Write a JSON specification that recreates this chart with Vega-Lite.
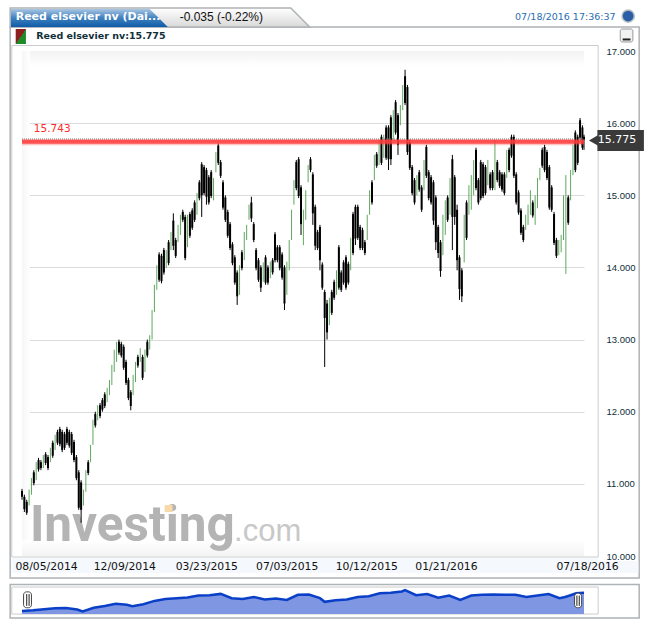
{"$schema":"https://vega.github.io/schema/vega-lite/v6.json","width":562,"height":505,"autosize":{"type":"none"},"padding":{"left":22,"top":51,"right":66,"bottom":71},"background":"white","config":{"view":{"stroke":null}},
"datasets":{"bars":[
{"d":"2014-08-05","o":10.9,"h":10.93,"l":10.78,"c":10.82,"t":"d"},{"d":"2014-08-08","o":10.82,"h":10.85,"l":10.61,"c":10.65,"t":"d"},{"d":"2014-08-11","o":10.75,"h":10.78,"l":10.57,"c":10.6,"t":"d"},{"d":"2014-08-14","o":10.73,"h":10.92,"l":10.7,"c":10.89,"t":"u"},{"d":"2014-08-17","o":10.88,"h":11.08,"l":10.85,"c":11.05,"t":"u"},{"d":"2014-08-20","o":11.16,"h":11.19,"l":10.98,"c":11.01,"t":"d"},{"d":"2014-08-23","o":11.08,"h":11.3,"l":11.05,"c":11.27,"t":"u"},{"d":"2014-08-26","o":11.33,"h":11.36,"l":11.17,"c":11.2,"t":"d"},{"d":"2014-08-29","o":11.3,"h":11.33,"l":11.19,"c":11.22,"t":"d"},{"d":"2014-09-01","o":11.25,"h":11.4,"l":11.22,"c":11.37,"t":"u"},{"d":"2014-09-04","o":11.41,"h":11.44,"l":11.26,"c":11.29,"t":"d"},{"d":"2014-09-07","o":11.37,"h":11.4,"l":11.19,"c":11.22,"t":"d"},{"d":"2014-09-10","o":11.33,"h":11.5,"l":11.3,"c":11.47,"t":"u"},{"d":"2014-09-13","o":11.57,"h":11.6,"l":11.36,"c":11.39,"t":"d"},{"d":"2014-09-16","o":11.5,"h":11.68,"l":11.47,"c":11.65,"t":"u"},{"d":"2014-09-19","o":11.72,"h":11.75,"l":11.54,"c":11.57,"t":"d"},{"d":"2014-09-22","o":11.76,"h":11.79,"l":11.52,"c":11.55,"t":"d"},{"d":"2014-09-25","o":11.72,"h":11.75,"l":11.44,"c":11.47,"t":"d"},{"d":"2014-09-28","o":11.69,"h":11.72,"l":11.47,"c":11.5,"t":"d"},
{"d":"2014-10-01","o":11.76,"h":11.79,"l":11.54,"c":11.57,"t":"d"},{"d":"2014-10-04","o":11.72,"h":11.75,"l":11.5,"c":11.53,"t":"d"},{"d":"2014-10-07","o":11.69,"h":11.72,"l":11.4,"c":11.43,"t":"d"},{"d":"2014-10-10","o":11.58,"h":11.61,"l":11.3,"c":11.33,"t":"d"},{"d":"2014-10-13","o":11.37,"h":11.4,"l":11.05,"c":11.08,"t":"d"},{"d":"2014-10-16","o":11.16,"h":11.19,"l":10.64,"c":10.67,"t":"d"},{"d":"2014-10-19","o":11.02,"h":11.05,"l":10.46,"c":10.64,"t":"d"},{"d":"2014-10-22","o":10.73,"h":10.92,"l":10.7,"c":10.89,"t":"u"},{"d":"2014-10-25","o":10.92,"h":11.19,"l":10.89,"c":11.16,"t":"u"},{"d":"2014-10-28","o":11.3,"h":11.33,"l":11.12,"c":11.15,"t":"d"},{"d":"2014-10-31","o":11.33,"h":11.54,"l":11.3,"c":11.51,"t":"u"},{"d":"2014-11-03","o":11.57,"h":11.89,"l":11.54,"c":11.86,"t":"u"},{"d":"2014-11-06","o":11.97,"h":12,"l":11.78,"c":11.81,"t":"d"},{"d":"2014-11-09","o":11.91,"h":12.09,"l":11.88,"c":12.06,"t":"u"},{"d":"2014-11-12","o":12.09,"h":12.12,"l":11.91,"c":11.94,"t":"d"},{"d":"2014-11-15","o":12.16,"h":12.19,"l":12,"c":12.03,"t":"d"},{"d":"2014-11-18","o":12.24,"h":12.27,"l":12.05,"c":12.08,"t":"d"},{"d":"2014-11-21","o":12.16,"h":12.33,"l":12.13,"c":12.3,"t":"u"},{"d":"2014-11-24","o":12.26,"h":12.44,"l":12.23,"c":12.41,"t":"u"},{"d":"2014-11-27","o":12.4,"h":12.65,"l":12.37,"c":12.62,"t":"u"},{"d":"2014-11-30","o":12.58,"h":12.86,"l":12.55,"c":12.83,"t":"u"},
{"d":"2014-12-03","o":12.72,"h":12.97,"l":12.69,"c":12.94,"t":"u"},{"d":"2014-12-06","o":12.97,"h":13,"l":12.79,"c":12.82,"t":"d"},{"d":"2014-12-09","o":12.94,"h":12.97,"l":12.75,"c":12.78,"t":"d"},{"d":"2014-12-12","o":12.9,"h":12.93,"l":12.58,"c":12.61,"t":"d"},{"d":"2014-12-15","o":12.69,"h":12.72,"l":12.37,"c":12.4,"t":"d"},{"d":"2014-12-18","o":12.44,"h":12.47,"l":12.16,"c":12.19,"t":"d"},{"d":"2014-12-21","o":12.27,"h":12.3,"l":12.02,"c":12.08,"t":"d"},{"d":"2014-12-24","o":12.26,"h":12.51,"l":12.23,"c":12.48,"t":"u"},{"d":"2014-12-27","o":12.44,"h":12.69,"l":12.41,"c":12.66,"t":"u"},{"d":"2014-12-30","o":12.76,"h":12.79,"l":12.61,"c":12.64,"t":"d"},{"d":"2015-01-02","o":12.72,"h":12.88,"l":12.69,"c":12.85,"t":"u"},{"d":"2015-01-05","o":12.76,"h":12.79,"l":12.44,"c":12.47,"t":"d"},{"d":"2015-01-08","o":12.58,"h":12.86,"l":12.55,"c":12.83,"t":"u"},{"d":"2015-01-11","o":12.97,"h":13,"l":12.75,"c":12.78,"t":"d"},{"d":"2015-01-14","o":12.89,"h":13.06,"l":12.86,"c":13.03,"t":"u"},{"d":"2015-01-17","o":13.03,"h":13.41,"l":13,"c":13.38,"t":"u"},{"d":"2015-01-20","o":13.41,"h":13.76,"l":13.38,"c":13.73,"t":"u"},{"d":"2015-01-23","o":13.72,"h":14.03,"l":13.69,"c":14,"t":"u"},{"d":"2015-01-26","o":14.18,"h":14.21,"l":13.8,"c":13.83,"t":"d"},{"d":"2015-01-29","o":14.16,"h":14.19,"l":13.78,"c":13.81,"t":"d"},
{"d":"2015-02-01","o":14.24,"h":14.27,"l":13.9,"c":13.93,"t":"d"},{"d":"2015-02-04","o":14.02,"h":14.24,"l":13.99,"c":14.21,"t":"u"},{"d":"2015-02-07","o":14.35,"h":14.38,"l":14.03,"c":14.06,"t":"d"},{"d":"2015-02-10","o":14.27,"h":14.49,"l":14.24,"c":14.46,"t":"u"},{"d":"2015-02-13","o":14.65,"h":14.75,"l":14.24,"c":14.3,"t":"d"},{"d":"2015-02-16","o":14.38,"h":14.41,"l":14.13,"c":14.16,"t":"d"},{"d":"2015-02-19","o":14.38,"h":14.59,"l":14.35,"c":14.56,"t":"u"},{"d":"2015-02-22","o":14.48,"h":14.73,"l":14.45,"c":14.7,"t":"u"},{"d":"2015-02-25","o":14.77,"h":14.8,"l":14.63,"c":14.66,"t":"d"},{"d":"2015-02-28","o":14.7,"h":14.73,"l":14.1,"c":14.13,"t":"d"},{"d":"2015-03-03","o":14.31,"h":14.73,"l":14.28,"c":14.7,"t":"u"},{"d":"2015-03-06","o":14.74,"h":14.77,"l":14.41,"c":14.44,"t":"d"},{"d":"2015-03-09","o":14.79,"h":14.82,"l":14.52,"c":14.55,"t":"d"},{"d":"2015-03-12","o":14.9,"h":14.93,"l":14.63,"c":14.66,"t":"d"},{"d":"2015-03-15","o":14.76,"h":15.03,"l":14.73,"c":15,"t":"u"},{"d":"2015-03-18","o":15.18,"h":15.21,"l":14.93,"c":14.96,"t":"d"},{"d":"2015-03-21","o":15.43,"h":15.46,"l":14.7,"c":15,"t":"d"},{"d":"2015-03-24","o":15.39,"h":15.42,"l":15,"c":15.03,"t":"d"},{"d":"2015-03-27","o":15.35,"h":15.38,"l":14.87,"c":14.98,"t":"d"},{"d":"2015-03-30","o":15.25,"h":15.28,"l":14.87,"c":14.9,"t":"d"},
{"d":"2015-04-02","o":15.32,"h":15.35,"l":14.96,"c":14.99,"t":"d"},{"d":"2015-04-05","o":14.96,"h":15.24,"l":14.93,"c":15.21,"t":"u"},{"d":"2015-04-08","o":15.35,"h":15.6,"l":15.32,"c":15.57,"t":"u"},{"d":"2015-04-11","o":15.69,"h":15.72,"l":15.42,"c":15.45,"t":"d"},{"d":"2015-04-14","o":15.46,"h":15.49,"l":15.24,"c":15.27,"t":"d"},{"d":"2015-04-17","o":15.18,"h":15.21,"l":14.8,"c":14.83,"t":"d"},{"d":"2015-04-20","o":14.97,"h":15,"l":14.63,"c":14.66,"t":"d"},{"d":"2015-04-23","o":14.77,"h":14.8,"l":14.41,"c":14.44,"t":"d"},{"d":"2015-04-26","o":14.6,"h":14.63,"l":14.24,"c":14.27,"t":"d"},{"d":"2015-04-29","o":14.32,"h":14.35,"l":14.03,"c":14.06,"t":"d"},{"d":"2015-05-02","o":14.14,"h":14.17,"l":13.76,"c":13.79,"t":"d"},{"d":"2015-05-05","o":13.93,"h":13.96,"l":13.48,"c":13.6,"t":"d"},{"d":"2015-05-08","o":13.65,"h":14.03,"l":13.62,"c":14,"t":"u"},{"d":"2015-05-11","o":14.21,"h":14.24,"l":13.96,"c":13.99,"t":"d"},{"d":"2015-05-14","o":14.13,"h":14.49,"l":14.1,"c":14.46,"t":"u"},{"d":"2015-05-17","o":14.41,"h":14.59,"l":14.38,"c":14.56,"t":"u"},{"d":"2015-05-20","o":14.69,"h":14.87,"l":14.66,"c":14.84,"t":"u"},{"d":"2015-05-23","o":14.9,"h":14.98,"l":14.63,"c":14.68,"t":"d"},{"d":"2015-05-26","o":14.6,"h":14.63,"l":14.35,"c":14.38,"t":"d"},{"d":"2015-05-29","o":14.24,"h":14.27,"l":13.96,"c":13.99,"t":"d"},
{"d":"2015-06-01","o":14.1,"h":14.13,"l":13.8,"c":13.83,"t":"d"},{"d":"2015-06-04","o":14,"h":14.03,"l":13.66,"c":13.72,"t":"d"},{"d":"2015-06-07","o":13.83,"h":14.07,"l":13.8,"c":14.04,"t":"u"},{"d":"2015-06-10","o":14.14,"h":14.17,"l":13.76,"c":13.79,"t":"d"},{"d":"2015-06-13","o":14,"h":14.03,"l":13.76,"c":13.79,"t":"d"},{"d":"2015-06-16","o":13.88,"h":14.08,"l":13.85,"c":14.05,"t":"u"},{"d":"2015-06-19","o":14.1,"h":14.13,"l":13.9,"c":13.93,"t":"d"},{"d":"2015-06-22","o":14.46,"h":14.49,"l":14.07,"c":14.1,"t":"d"},{"d":"2015-06-25","o":14.28,"h":14.31,"l":14.07,"c":14.1,"t":"d"},{"d":"2015-06-28","o":14.28,"h":14.31,"l":13.96,"c":13.99,"t":"d"},{"d":"2015-07-01","o":14.18,"h":14.21,"l":13.83,"c":13.86,"t":"d"},{"d":"2015-07-04","o":14,"h":14.03,"l":13.41,"c":13.5,"t":"d"},{"d":"2015-07-07","o":13.65,"h":14.08,"l":13.62,"c":14.05,"t":"u"},{"d":"2015-07-10","o":13.99,"h":14.38,"l":13.96,"c":14.35,"t":"u"},{"d":"2015-07-13","o":14.41,"h":14.8,"l":14.38,"c":14.77,"t":"u"},{"d":"2015-07-16","o":14.9,"h":15.21,"l":14.87,"c":15.18,"t":"u"},{"d":"2015-07-19","o":15.46,"h":15.49,"l":15.07,"c":15.1,"t":"d"},{"d":"2015-07-22","o":15.5,"h":15.53,"l":14.96,"c":14.99,"t":"d"},{"d":"2015-07-25","o":15.11,"h":15.14,"l":14.45,"c":14.6,"t":"d"},{"d":"2015-07-28","o":14.34,"h":14.8,"l":14.31,"c":14.77,"t":"u"},{"d":"2015-07-31","o":14.69,"h":15.07,"l":14.66,"c":15.04,"t":"u"},
{"d":"2015-08-03","o":15.21,"h":15.42,"l":15.18,"c":15.39,"t":"u"},{"d":"2015-08-06","o":15.5,"h":15.53,"l":15.32,"c":15.35,"t":"d"},{"d":"2015-08-09","o":15.29,"h":15.32,"l":14.59,"c":14.75,"t":"d"},{"d":"2015-08-12","o":14.84,"h":14.87,"l":14.24,"c":14.3,"t":"d"},{"d":"2015-08-15","o":14.49,"h":14.52,"l":14.24,"c":14.27,"t":"d"},{"d":"2015-08-18","o":14.56,"h":14.59,"l":13.96,"c":14.1,"t":"d"},{"d":"2015-08-21","o":14.04,"h":14.07,"l":13.69,"c":13.72,"t":"d"},{"d":"2015-08-24","o":13.66,"h":13.69,"l":12.62,"c":13.3,"t":"d"},{"d":"2015-08-27","o":13.5,"h":13.55,"l":13,"c":13.1,"t":"d"},{"d":"2015-08-30","o":13.23,"h":13.58,"l":13.2,"c":13.55,"t":"u"},{"d":"2015-09-02","o":13.66,"h":13.69,"l":13.34,"c":13.37,"t":"d"},{"d":"2015-09-05","o":13.8,"h":13.83,"l":13.55,"c":13.58,"t":"d"},{"d":"2015-09-08","o":13.65,"h":13.96,"l":13.62,"c":13.93,"t":"u"},{"d":"2015-09-11","o":14.28,"h":14.31,"l":13.69,"c":13.72,"t":"d"},{"d":"2015-09-14","o":13.93,"h":13.96,"l":13.66,"c":13.69,"t":"d"},{"d":"2015-09-17","o":14.07,"h":14.1,"l":13.76,"c":13.79,"t":"d"},{"d":"2015-09-20","o":14.14,"h":14.17,"l":13.69,"c":13.72,"t":"d"},{"d":"2015-09-23","o":14.05,"h":14.08,"l":13.76,"c":13.79,"t":"d"},{"d":"2015-09-26","o":13.99,"h":14.41,"l":13.96,"c":14.38,"t":"u"},{"d":"2015-09-29","o":14.74,"h":14.77,"l":14.17,"c":14.2,"t":"d"},
{"d":"2015-10-02","o":14.84,"h":14.87,"l":14.31,"c":14.4,"t":"d"},{"d":"2015-10-05","o":14.84,"h":14.87,"l":14.38,"c":14.41,"t":"d"},{"d":"2015-10-08","o":14.56,"h":14.59,"l":14.24,"c":14.27,"t":"d"},{"d":"2015-10-11","o":14.52,"h":14.55,"l":14.24,"c":14.27,"t":"d"},{"d":"2015-10-14","o":14.35,"h":14.38,"l":14.17,"c":14.2,"t":"d"},{"d":"2015-10-17","o":14.41,"h":14.73,"l":14.38,"c":14.7,"t":"u"},{"d":"2015-10-20","o":14.76,"h":15.07,"l":14.73,"c":15.04,"t":"u"},{"d":"2015-10-23","o":15.18,"h":15.21,"l":14.87,"c":14.9,"t":"d"},{"d":"2015-10-26","o":15.24,"h":15.56,"l":15.21,"c":15.53,"t":"u"},{"d":"2015-10-29","o":15.57,"h":15.6,"l":15.38,"c":15.41,"t":"d"},{"d":"2015-11-01","o":15.45,"h":15.77,"l":15.42,"c":15.74,"t":"u"},{"d":"2015-11-04","o":15.81,"h":15.84,"l":15.42,"c":15.45,"t":"d"},{"d":"2015-11-07","o":15.55,"h":15.84,"l":15.52,"c":15.81,"t":"u"},{"d":"2015-11-10","o":15.94,"h":15.97,"l":15.49,"c":15.52,"t":"d"},{"d":"2015-11-13","o":15.94,"h":15.97,"l":15.35,"c":15.5,"t":"d"},{"d":"2015-11-16","o":16.08,"h":16.11,"l":15.42,"c":15.5,"t":"d"},{"d":"2015-11-19","o":15.8,"h":16.18,"l":15.77,"c":16.15,"t":"u"},{"d":"2015-11-22","o":16.29,"h":16.32,"l":15.84,"c":15.87,"t":"d"},{"d":"2015-11-25","o":16.11,"h":16.14,"l":15.56,"c":15.7,"t":"d"},{"d":"2015-11-28","o":16,"h":16.25,"l":15.97,"c":16.22,"t":"u"},
{"d":"2015-12-01","o":16.21,"h":16.53,"l":16.18,"c":16.5,"t":"u"},{"d":"2015-12-04","o":16.65,"h":16.74,"l":16.25,"c":16.28,"t":"d"},{"d":"2015-12-07","o":16.5,"h":16.53,"l":15.56,"c":15.6,"t":"d"},{"d":"2015-12-10","o":15.74,"h":15.77,"l":15.35,"c":15.38,"t":"d"},{"d":"2015-12-13","o":15.39,"h":15.42,"l":15,"c":15.03,"t":"d"},{"d":"2015-12-16","o":15.21,"h":15.24,"l":14.87,"c":14.9,"t":"d"},{"d":"2015-12-19","o":15.03,"h":15.28,"l":15,"c":15.25,"t":"u"},{"d":"2015-12-22","o":15.32,"h":15.35,"l":15.05,"c":15.08,"t":"d"},{"d":"2015-12-25","o":15.11,"h":15.14,"l":14.77,"c":14.8,"t":"d"},{"d":"2015-12-28","o":15.1,"h":15.49,"l":15.07,"c":15.46,"t":"u"},{"d":"2015-12-31","o":15.67,"h":15.7,"l":15.24,"c":15.27,"t":"d"},{"d":"2016-01-03","o":15.32,"h":15.35,"l":14.93,"c":14.96,"t":"d"},{"d":"2016-01-06","o":15.25,"h":15.28,"l":14.87,"c":14.9,"t":"d"},{"d":"2016-01-09","o":15.18,"h":15.21,"l":14.59,"c":14.65,"t":"d"},{"d":"2016-01-12","o":14.97,"h":15,"l":14.24,"c":14.35,"t":"d"},{"d":"2016-01-15","o":14.56,"h":14.59,"l":14.13,"c":14.2,"t":"d"},{"d":"2016-01-18","o":14.35,"h":14.38,"l":13.87,"c":13.95,"t":"d"},{"d":"2016-01-21","o":14.2,"h":14.73,"l":14.17,"c":14.7,"t":"u"},{"d":"2016-01-24","o":14.48,"h":14.93,"l":14.45,"c":14.9,"t":"u"},{"d":"2016-01-27","o":14.97,"h":15,"l":14.63,"c":14.66,"t":"d"},{"d":"2016-01-30","o":14.76,"h":15.24,"l":14.73,"c":15.21,"t":"u"},
{"d":"2016-02-02","o":15.5,"h":15.56,"l":14.24,"c":14.7,"t":"d"},{"d":"2016-02-05","o":15.25,"h":15.28,"l":14.59,"c":14.7,"t":"d"},{"d":"2016-02-08","o":14.8,"h":14.87,"l":13.96,"c":14.1,"t":"d"},{"d":"2016-02-11","o":14.14,"h":14.17,"l":13.55,"c":13.7,"t":"d"},{"d":"2016-02-14","o":13.96,"h":13.99,"l":13.52,"c":13.6,"t":"d"},{"d":"2016-02-17","o":14.1,"h":14.73,"l":14.07,"c":14.7,"t":"u"},{"d":"2016-02-20","o":14.9,"h":14.93,"l":14.38,"c":14.41,"t":"d"},{"d":"2016-02-23","o":14.76,"h":15.14,"l":14.73,"c":15.11,"t":"u"},{"d":"2016-02-26","o":14.83,"h":15.28,"l":14.8,"c":15.25,"t":"u"},{"d":"2016-02-29","o":15.03,"h":15.49,"l":15,"c":15.46,"t":"u"},{"d":"2016-03-03","o":15.63,"h":15.66,"l":15.07,"c":15.1,"t":"d"},{"d":"2016-03-06","o":15.21,"h":15.24,"l":14.87,"c":14.9,"t":"d"},{"d":"2016-03-09","o":15.46,"h":15.49,"l":14.93,"c":14.96,"t":"d"},{"d":"2016-03-12","o":15.43,"h":15.46,"l":14.96,"c":14.99,"t":"d"},{"d":"2016-03-15","o":15.39,"h":15.42,"l":15,"c":15.03,"t":"d"},{"d":"2016-03-18","o":15.17,"h":15.49,"l":15.14,"c":15.46,"t":"u"},{"d":"2016-03-21","o":15.29,"h":15.32,"l":15.07,"c":15.1,"t":"d"},{"d":"2016-03-24","o":15.32,"h":15.35,"l":15.07,"c":15.1,"t":"d"},{"d":"2016-03-27","o":15.1,"h":15.77,"l":15.07,"c":15.74,"t":"u"},{"d":"2016-03-30","o":15.46,"h":15.49,"l":15.18,"c":15.21,"t":"d"},
{"d":"2016-04-02","o":15.32,"h":15.35,"l":15.1,"c":15.13,"t":"d"},{"d":"2016-04-05","o":15.29,"h":15.32,"l":15.05,"c":15.08,"t":"d"},{"d":"2016-04-08","o":15.29,"h":15.32,"l":15,"c":15.03,"t":"d"},{"d":"2016-04-11","o":15.27,"h":15.63,"l":15.24,"c":15.6,"t":"u"},{"d":"2016-04-14","o":15.63,"h":15.66,"l":15.32,"c":15.35,"t":"d"},{"d":"2016-04-17","o":15.81,"h":15.84,"l":15.52,"c":15.55,"t":"d"},{"d":"2016-04-20","o":15.81,"h":15.84,"l":15.24,"c":15.27,"t":"d"},{"d":"2016-04-23","o":15.29,"h":15.32,"l":14.87,"c":14.9,"t":"d"},{"d":"2016-04-26","o":15.04,"h":15.07,"l":14.73,"c":14.76,"t":"d"},{"d":"2016-04-29","o":14.79,"h":14.82,"l":14.45,"c":14.48,"t":"d"},{"d":"2016-05-02","o":14.56,"h":14.59,"l":14.35,"c":14.38,"t":"d"},{"d":"2016-05-05","o":14.55,"h":14.73,"l":14.52,"c":14.7,"t":"u"},{"d":"2016-05-08","o":14.62,"h":14.87,"l":14.59,"c":14.84,"t":"u"},{"d":"2016-05-11","o":14.76,"h":15.07,"l":14.73,"c":15.04,"t":"u"},{"d":"2016-05-14","o":14.9,"h":14.93,"l":14.69,"c":14.72,"t":"d"},{"d":"2016-05-17","o":14.62,"h":15,"l":14.59,"c":14.97,"t":"u"},{"d":"2016-05-20","o":14.85,"h":15.24,"l":14.82,"c":15.21,"t":"u"},{"d":"2016-05-23","o":15.24,"h":15.38,"l":15.21,"c":15.35,"t":"u"},{"d":"2016-05-26","o":15.63,"h":15.66,"l":15.38,"c":15.41,"t":"d"},{"d":"2016-05-29","o":15.67,"h":15.7,"l":15.32,"c":15.35,"t":"d"},
{"d":"2016-06-01","o":15.6,"h":15.63,"l":15.21,"c":15.24,"t":"d"},{"d":"2016-06-04","o":15.39,"h":15.42,"l":14.8,"c":14.83,"t":"d"},{"d":"2016-06-07","o":15.11,"h":15.14,"l":14.77,"c":14.8,"t":"d"},{"d":"2016-06-10","o":14.74,"h":14.77,"l":14.31,"c":14.34,"t":"d"},{"d":"2016-06-13","o":14.38,"h":14.41,"l":14.13,"c":14.16,"t":"d"},{"d":"2016-06-16","o":14.2,"h":14.38,"l":14.17,"c":14.35,"t":"u"},{"d":"2016-06-19","o":14.24,"h":14.45,"l":14.21,"c":14.42,"t":"u"},{"d":"2016-06-22","o":14.41,"h":15,"l":14.38,"c":14.97,"t":"u"},{"d":"2016-06-25","o":13.94,"h":15.28,"l":13.91,"c":15.25,"t":"u"},{"d":"2016-06-28","o":14.97,"h":15,"l":14.59,"c":14.62,"t":"d"},{"d":"2016-07-01","o":14.96,"h":15.35,"l":14.93,"c":15.32,"t":"u"},{"d":"2016-07-04","o":15.31,"h":15.7,"l":15.28,"c":15.67,"t":"u"},{"d":"2016-07-07","o":15.87,"h":15.9,"l":15.32,"c":15.35,"t":"d"},{"d":"2016-07-10","o":15.81,"h":15.84,"l":15.42,"c":15.45,"t":"d"},{"d":"2016-07-13","o":16.04,"h":16.07,"l":15.77,"c":15.8,"t":"d"},{"d":"2016-07-16","o":15.94,"h":15.97,"l":15.63,"c":15.66,"t":"d"},{"d":"2016-07-18","o":15.81,"h":15.84,"l":15.63,"c":15.775,"t":"d"}
],
"nav":[{"d":"2014-08-05","v":10.8},{"d":"2014-08-19","v":11},{"d":"2014-09-02","v":11.3},{"d":"2014-09-16","v":11.55},{"d":"2014-09-30","v":11.65},{"d":"2014-10-14","v":11.2},{"d":"2014-10-21","v":10.7},{"d":"2014-11-04","v":11.7},{"d":"2014-11-18","v":12.15},{"d":"2014-12-02","v":12.8},{"d":"2014-12-16","v":12.5},{"d":"2014-12-23","v":12.1},{"d":"2015-01-06","v":12.65},{"d":"2015-01-20","v":13.55},{"d":"2015-02-03","v":14.05},{"d":"2015-02-17","v":14.3},{"d":"2015-03-03","v":14.5},{"d":"2015-03-17","v":15},{"d":"2015-03-31","v":15.1},{"d":"2015-04-14","v":15.45},{"d":"2015-04-28","v":14.3},{"d":"2015-05-12","v":14.1},{"d":"2015-05-26","v":14.6},{"d":"2015-06-09","v":13.95},{"d":"2015-06-23","v":14.2},{"d":"2015-07-07","v":13.8},{"d":"2015-07-21","v":15.2},{"d":"2015-08-04","v":15.3},{"d":"2015-08-18","v":14.3},{"d":"2015-08-24","v":13.3},{"d":"2015-09-07","v":13.75},{"d":"2015-09-21","v":13.95},{"d":"2015-10-05","v":14.6},{"d":"2015-10-19","v":14.8},{"d":"2015-11-02","v":15.6},{"d":"2015-11-16","v":15.75},{"d":"2015-11-30","v":16.1},{"d":"2015-12-04","v":16.5},{"d":"2015-12-18","v":15.1},{"d":"2016-01-01","v":15.4},{"d":"2016-01-15","v":14.4},{"d":"2016-01-29","v":15},{"d":"2016-02-12","v":13.8},{"d":"2016-02-26","v":15},{"d":"2016-03-11","v":15.2},{"d":"2016-03-25","v":15.3},{"d":"2016-04-08","v":15.2},{"d":"2016-04-22","v":15.2},{"d":"2016-05-06","v":14.6},{"d":"2016-05-20","v":15},{"d":"2016-06-03","v":15.4},{"d":"2016-06-17","v":14.3},{"d":"2016-06-24","v":14.6},{"d":"2016-07-01","v":15.1},{"d":"2016-07-08","v":15.6},{"d":"2016-07-18","v":15.78}],
"tab":[{"d":"2014-07-21","top":17.596,"base":17.333},{"d":"2015-07-12","top":17.596,"base":17.333},{"d":"2015-08-05","top":17.333,"base":17.333}],
"tabBlue":[{"d":"2014-07-22","top":17.582,"base":17.333},{"d":"2015-01-14","top":17.582,"base":17.333},{"d":"2015-02-06","top":17.333,"base":17.333}],
"one":[{}]},
"resolve":{"scale":{"y":"independent"}},
"layer":[
{"layer":[
{"data":{"name":"one"},"mark":{"type":"rect","filled":false,"stroke":"#aeb3b6","strokeWidth":1.5},"encoding":{"x":{"datum":{"year":2014,"month":7,"date":21,"utc":true},"type":"temporal","scale":{"type":"utc","domain":["2014-08-05","2016-07-18"]},"axis":{"title":null,"zindex":1,"values":[{"year":2014,"month":8,"date":5,"utc":true},{"year":2014,"month":12,"date":9,"utc":true},{"year":2015,"month":3,"date":23,"utc":true},{"year":2015,"month":7,"date":3,"utc":true},{"year":2015,"month":10,"date":12,"utc":true},{"year":2016,"month":1,"date":21,"utc":true},{"year":2016,"month":7,"date":18,"utc":true}],"labelExpr":"utcFormat(datum.value,'%m/%d/%Y')","domain":false,"ticks":false,"grid":false,"labelFont":"DejaVu Sans","labelFontSize":10.8,"labelColor":"#111","labelPadding":4,"labelOverlap":false,"labelFlush":false,"labelBound":false,"labelAngle":0,"labelOffset":{"expr":"utcyear(datum.value)==2014 && utcmonth(datum.value)==7 ? 24 : 3"}}},"x2":{"datum":{"year":2016,"month":9,"date":26,"utc":true}},"y":{"datum":17.333,"type":"quantitative","scale":{"domain":[10,17],"zero":false,"nice":false},"axis":{"title":null,"orient":"right","values":[10,11,12,13,14,15,16,17],"format":".3f","domain":false,"ticks":false,"labelPadding":22,"labelFont":"Liberation Sans","labelFontSize":9.5,"labelColor":"#0f2f3a","labelOverlap":false,"labelFlush":false,"labelBound":false,"grid":true,"gridColor":{"condition":{"test":"datum.value>=17 || datum.value<=10","value":"transparent"},"value":"#dcdcdc"}}},"y2":{"datum":9.695}}},
{"data":{"name":"tab"},"mark":{"type":"area","stroke":"#aeb3b6","strokeWidth":1.5,"fill":{"gradient":"linear","x1":0,"y1":0,"x2":0,"y2":1,"stops":[{"offset":0,"color":"#ffffff"},{"offset":1,"color":"#d9d9d9"}]}},"encoding":{"x":{"field":"d","type":"temporal"},"y":{"field":"top","type":"quantitative"},"y2":{"field":"base"}}},
{"data":{"name":"tabBlue"},"mark":{"type":"area","fill":{"gradient":"linear","x1":0,"y1":0,"x2":0,"y2":1,"stops":[{"offset":0,"color":"#a9c6e2"},{"offset":0.5,"color":"#3f80c0"},{"offset":1,"color":"#0f5ca8"}]}},"encoding":{"x":{"field":"d","type":"temporal"},"y":{"field":"top","type":"quantitative"},"y2":{"field":"base"}}},
{"data":{"name":"one"},"mark":{"type":"text","text":"Reed elsevier nv (Dai...","align":"left","baseline":"middle","font":"DejaVu Sans","fontWeight":"bold","fontSize":11,"fill":"white"},"encoding":{"x":{"datum":{"year":2014,"month":7,"date":28,"utc":true},"type":"temporal"},"y":{"datum":17.471,"type":"quantitative"}}},
{"data":{"name":"one"},"mark":{"type":"text","text":"-0.035 (-0.22%)","align":"left","baseline":"middle","font":"Liberation Sans","fontSize":12,"fill":"#111"},"encoding":{"x":{"datum":{"year":2015,"month":2,"date":21,"utc":true},"type":"temporal"},"y":{"datum":17.471,"type":"quantitative"}}},
{"data":{"name":"one"},"mark":{"type":"text","text":"07/18/2016 17:36:37","align":"right","baseline":"middle","font":"DejaVu Sans","fontSize":9.5,"fill":"#2a6db0"},"encoding":{"x":{"datum":{"year":2016,"month":8,"date":27,"utc":true},"type":"temporal"},"y":{"datum":17.471,"type":"quantitative"}}},
{"data":{"name":"one"},"mark":{"type":"point","shape":"circle","filled":true,"size":150,"fill":"#2a5fa8","stroke":"#b8bcc0","strokeWidth":1.5,"opacity":1},"encoding":{"x":{"datum":{"year":2016,"month":9,"date":12,"utc":true},"type":"temporal"},"y":{"datum":17.485,"type":"quantitative"}}},
{"data":{"name":"one"},"mark":{"type":"rect","fill":{"gradient":"linear","x1":0,"y1":0,"x2":1,"y2":1,"stops":[{"offset":0,"color":"#8c2020"},{"offset":0.5,"color":"#8c2020"},{"offset":0.5,"color":"#1f8a2a"},{"offset":1,"color":"#1f8a2a"}]}},"encoding":{"x":{"datum":{"year":2014,"month":7,"date":28,"utc":true},"type":"temporal"},"x2":{"datum":{"year":2014,"month":8,"date":10,"utc":true}},"y":{"datum":17.305,"type":"quantitative"},"y2":{"datum":17.097}}},
{"data":{"name":"one"},"mark":{"type":"text","text":"Reed elsevier nv:15.775","align":"left","baseline":"middle","font":"DejaVu Sans","fontWeight":"bold","fontSize":9.5,"fill":"#0f2f3a"},"encoding":{"x":{"datum":{"year":2014,"month":8,"date":23,"utc":true},"type":"temporal"},"y":{"datum":17.208,"type":"quantitative"}}},
{"data":{"name":"one"},"mark":{"type":"rect","cornerRadius":2,"stroke":"#9a9a9a","fill":"#f2f2f2"},"encoding":{"x":{"datum":{"year":2016,"month":9,"date":2,"utc":true},"type":"temporal"},"x2":{"datum":{"year":2016,"month":9,"date":18,"utc":true}},"y":{"datum":17.305,"type":"quantitative"},"y2":{"datum":17.125}}},
{"data":{"name":"one"},"mark":{"type":"rule","stroke":"#222","strokeWidth":2},"encoding":{"x":{"datum":{"year":2016,"month":9,"date":5,"utc":true},"type":"temporal"},"x2":{"datum":{"year":2016,"month":9,"date":15,"utc":true}},"y":{"datum":17.16,"type":"quantitative"}}},
{"data":{"name":"one"},"mark":{"type":"rect","filled":false,"stroke":"#cccccc","strokeWidth":1},"encoding":{"x":{"datum":{"year":2014,"month":7,"date":23,"utc":true},"type":"temporal"},"x2":{"datum":{"year":2016,"month":8,"date":5,"utc":true}},"y":{"datum":17.076,"type":"quantitative"},"y2":{"datum":9.986}}},
{"data":{"name":"one"},"mark":{"type":"rect","fill":"#f5f8fd"},"encoding":{"x":{"datum":{"year":2014,"month":7,"date":23,"utc":true},"type":"temporal"},"x2":{"datum":{"year":2016,"month":8,"date":5,"utc":true}},"y":{"datum":9.97,"type":"quantitative"},"y2":{"datum":9.764}}},
{"data":{"name":"one"},"mark":{"type":"rect","fill":"#f5f8fd"},"encoding":{"x":{"datum":{"year":2016,"month":8,"date":5,"utc":true},"type":"temporal"},"x2":{"datum":{"year":2016,"month":9,"date":25,"utc":true}},"y":{"datum":9.93,"type":"quantitative"},"y2":{"datum":9.764}}},
{"data":{"name":"one"},"mark":{"type":"rect","fill":{"gradient":"linear","x1":0,"y1":0,"x2":0,"y2":1,"stops":[{"offset":0,"color":"#f3f3f3"},{"offset":1,"color":"#ffffff"}]}},"encoding":{"x":{"datum":{"year":2014,"month":8,"date":5,"utc":true},"type":"temporal"},"x2":{"datum":{"year":2016,"month":7,"date":18,"utc":true}},"y":{"datum":17,"type":"quantitative"},"y2":{"datum":16.79}}},
{"data":{"name":"one"},"mark":{"type":"rect","fill":{"gradient":"linear","x1":0,"y1":0,"x2":1,"y2":0,"stops":[{"offset":0,"color":"#f6f6f6"},{"offset":1,"color":"#ffffff"}]}},"encoding":{"x":{"datum":{"year":2014,"month":8,"date":5,"utc":true},"type":"temporal"},"x2":{"datum":{"year":2014,"month":8,"date":15,"utc":true}},"y":{"datum":17,"type":"quantitative"},"y2":{"datum":10}}},
{"data":{"name":"one"},"mark":{"type":"rect","fill":{"gradient":"linear","x1":0,"y1":0,"x2":0,"y2":1,"stops":[{"offset":0,"color":"#ffffff"},{"offset":1,"color":"#f3f3f3"}]}},"encoding":{"x":{"datum":{"year":2014,"month":8,"date":5,"utc":true},"type":"temporal"},"x2":{"datum":{"year":2016,"month":7,"date":18,"utc":true}},"y":{"datum":10.22,"type":"quantitative"},"y2":{"datum":10}}},
{"data":{"name":"one"},"mark":{"type":"text","text":"Investing","align":"left","baseline":"alphabetic","font":"Roboto","fontWeight":"bold","fontSize":49.5,"fill":"#b4b4b4"},"encoding":{"x":{"datum":{"year":2014,"month":8,"date":15,"utc":true},"type":"temporal"},"y":{"datum":10.208,"type":"quantitative"}}},
{"data":{"name":"one"},"mark":{"type":"rect","fill":"#f9d9a8"},"encoding":{"x":{"datum":{"year":2015,"month":2,"date":2,"utc":true},"type":"temporal"},"x2":{"datum":{"year":2015,"month":2,"date":12,"utc":true}},"y":{"datum":10.707,"type":"quantitative"},"y2":{"datum":10.61}}},
{"data":{"name":"one"},"mark":{"type":"text","text":".com","align":"left","baseline":"alphabetic","font":"Liberation Sans","fontSize":31,"fill":"#c8c8c8"},"encoding":{"x":{"datum":{"year":2015,"month":5,"date":1,"utc":true},"type":"temporal"},"y":{"datum":10.208,"type":"quantitative"}}},
{"data":{"name":"bars"},"mark":{"type":"rule","strokeWidth":1},"encoding":{"x":{"field":"d","type":"temporal"},"y":{"field":"l","type":"quantitative"},"y2":{"field":"h"},"color":{"field":"t","type":"nominal","legend":null,"scale":{"domain":["u","d"],"range":["#5fa85f","#000000"]}}}},
{"data":{"name":"bars"},"transform":[{"filter":"datum.t=='d'"}],"mark":{"type":"rule","strokeWidth":2,"stroke":"#000"},"encoding":{"x":{"field":"d","type":"temporal"},"y":{"field":"c","type":"quantitative"},"y2":{"field":"o"}}},
{"data":{"name":"one"},"mark":{"type":"rule","stroke":"#777","strokeWidth":1,"strokeDash":[1,1]},"encoding":{"x":{"datum":{"year":2014,"month":8,"date":5,"utc":true},"type":"temporal"},"x2":{"datum":{"year":2016,"month":7,"date":18,"utc":true}},"y":{"datum":15.78,"type":"quantitative"}}},
{"data":{"name":"one"},"mark":{"type":"rule","stroke":"#ff3c3c","strokeOpacity":0.3,"strokeWidth":6},"encoding":{"x":{"datum":{"year":2014,"month":8,"date":5,"utc":true},"type":"temporal"},"x2":{"datum":{"year":2016,"month":7,"date":18,"utc":true}},"y":{"datum":15.735,"type":"quantitative"}}},
{"data":{"name":"one"},"mark":{"type":"rule","stroke":"#ff3c3c","strokeOpacity":0.85,"strokeWidth":4},"encoding":{"x":{"datum":{"year":2014,"month":8,"date":5,"utc":true},"type":"temporal"},"x2":{"datum":{"year":2016,"month":7,"date":18,"utc":true}},"y":{"datum":15.743,"type":"quantitative"}}},
{"data":{"name":"one"},"mark":{"type":"text","text":"15.743","align":"left","baseline":"middle","font":"DejaVu Sans","fontSize":10.5,"fill":"#ff2a2a"},"encoding":{"x":{"datum":{"year":2014,"month":8,"date":20,"utc":true},"type":"temporal"},"y":{"datum":15.912,"type":"quantitative"}}},
{"data":{"name":"one"},"mark":{"type":"rect","fill":"#3a3a3a"},"encoding":{"x":{"datum":{"year":2016,"month":8,"date":4,"utc":true},"type":"temporal"},"x2":{"datum":{"year":2016,"month":10,"date":2,"utc":true}},"y":{"datum":15.905,"type":"quantitative"},"y2":{"datum":15.614}}},
{"data":{"name":"one"},"mark":{"type":"point","shape":"triangle-left","filled":true,"size":150,"fill":"#3a3a3a","opacity":1},"encoding":{"x":{"datum":{"year":2016,"month":7,"date":31,"utc":true},"type":"temporal"},"y":{"datum":15.76,"type":"quantitative"}}},
{"data":{"name":"one"},"mark":{"type":"text","text":"15.775","align":"center","baseline":"middle","font":"DejaVu Sans","fontSize":11,"fill":"white"},"encoding":{"x":{"datum":{"year":2016,"month":8,"date":29,"utc":true},"type":"temporal"},"y":{"datum":15.76,"type":"quantitative"}}},
{"data":{"name":"one"},"mark":{"type":"rect","filled":false,"stroke":"#aeb3b6","strokeWidth":1.5},"encoding":{"x":{"datum":{"year":2014,"month":7,"date":21,"utc":true},"type":"temporal"},"x2":{"datum":{"year":2016,"month":9,"date":26,"utc":true}},"y":{"datum":9.605,"type":"quantitative"},"y2":{"datum":9.139}}},
{"data":{"name":"one"},"mark":{"type":"rect","filled":false,"stroke":"#cccccc","strokeWidth":1},"encoding":{"x":{"datum":{"year":2014,"month":7,"date":23,"utc":true},"type":"temporal"},"x2":{"datum":{"year":2016,"month":8,"date":5,"utc":true}},"y":{"datum":9.57,"type":"quantitative"},"y2":{"datum":9.196}}}
]},
{"layer":[
{"data":{"name":"nav"},"mark":{"type":"area","fill":"#7f97e3"},"encoding":{"x":{"field":"d","type":"temporal"},"y":{"field":"v","type":"quantitative","axis":null,"scale":{"domain":[25.72,162.57],"zero":false,"nice":false}},"y2":{"datum":10}}},
{"data":{"name":"nav"},"mark":{"type":"line","stroke":"#0a3fc8","strokeWidth":2.5},"encoding":{"x":{"field":"d","type":"temporal"},"y":{"field":"v","type":"quantitative","axis":null}}},
{"data":{"name":"one"},"mark":{"type":"rect","cornerRadius":3,"fill":"white","stroke":"#444","strokeWidth":1},"encoding":{"x":{"datum":{"year":2014,"month":8,"date":7,"utc":true},"type":"temporal"},"x2":{"datum":{"year":2014,"month":8,"date":17,"utc":true}},"y":{"datum":16,"type":"quantitative","axis":null},"y2":{"datum":11.7}}},
{"data":{"name":"one"},"mark":{"type":"rect","cornerRadius":3,"fill":"white","stroke":"#444","strokeWidth":1},"encoding":{"x":{"datum":{"year":2016,"month":7,"date":6,"utc":true},"type":"temporal"},"x2":{"datum":{"year":2016,"month":7,"date":15,"utc":true}},"y":{"datum":15.6,"type":"quantitative","axis":null},"y2":{"datum":11.7}}},
{"data":{"name":"one"},"mark":{"type":"rule","stroke":"#222","strokeWidth":1},"encoding":{"x":{"datum":{"year":2014,"month":8,"date":11,"utc":true},"type":"temporal"},"y":{"datum":15.4,"type":"quantitative","axis":null},"y2":{"datum":12.2}}},
{"data":{"name":"one"},"mark":{"type":"rule","stroke":"#222","strokeWidth":1},"encoding":{"x":{"datum":{"year":2014,"month":8,"date":14,"utc":true},"type":"temporal"},"y":{"datum":15.4,"type":"quantitative","axis":null},"y2":{"datum":12.2}}},
{"data":{"name":"one"},"mark":{"type":"rule","stroke":"#222","strokeWidth":1},"encoding":{"x":{"datum":{"year":2016,"month":7,"date":9,"utc":true},"type":"temporal"},"y":{"datum":15,"type":"quantitative","axis":null},"y2":{"datum":12.2}}},
{"data":{"name":"one"},"mark":{"type":"rule","stroke":"#222","strokeWidth":1},"encoding":{"x":{"datum":{"year":2016,"month":7,"date":12,"utc":true},"type":"temporal"},"y":{"datum":15,"type":"quantitative","axis":null},"y2":{"datum":12.2}}}
]}
]}
